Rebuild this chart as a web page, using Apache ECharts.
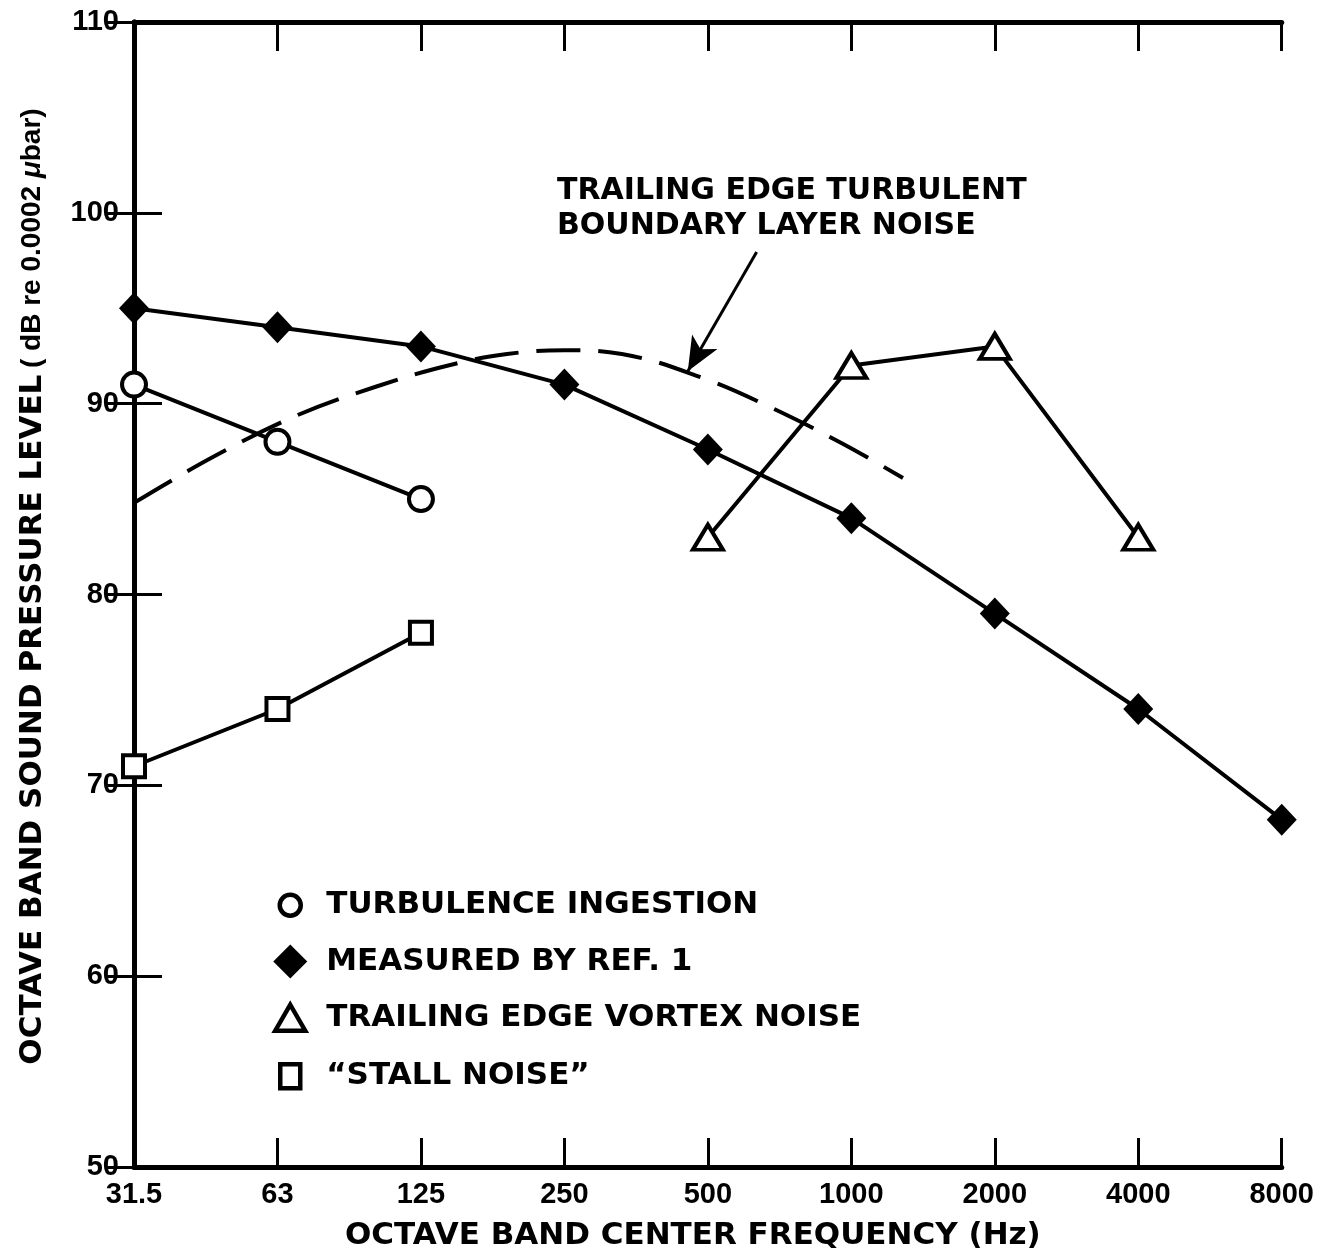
<!DOCTYPE html>
<html>
<head>
<meta charset="utf-8">
<script src="https://cdn.jsdelivr.net/npm/echarts@6/dist/echarts.min.js"></script>
<style>
  html, body { margin: 0; padding: 0; background: #fff; }
  #chart { width: 1317px; height: 1256px; }
</style>
</head>
<body>
<div id="chart"></div>
<script>
// Octave band centre frequencies (Hz), one per octave step on the x axis
const bandLabels = ['31.5', '63', '125', '250', '500', '1000', '2000', '4000', '8000'];
const bandIndex = [0, 1, 2, 3, 4, 5, 6, 7, 8];

// Octave band sound pressure levels, dB re 0.0002 μbar
const measuredRef1 = [95, 94, 93, 91, 87.6, 84, 79, 74, 68.2];           // bands 0..8
const turbulenceIngestion = [91, 88, 85];                                  // bands 0..2
const stallNoise = [71, 74, 78];                                           // bands 0..2
const vortexNoise = [83, 92, 93, 83];                                      // bands 4..7
const vortexBands = [4, 5, 6, 7];

// Predicted trailing edge turbulent boundary layer noise (dashed curve)
const tblBands = [0.0, 0.55, 1.14, 1.69, 2.19, 2.6, 3.0, 3.4, 3.98, 4.44, 4.94, 5.36];
const tblLevels = [84.8, 87.2, 89.4, 90.9, 92.0, 92.6, 92.8, 92.6, 91.3, 89.8, 87.9, 86.1];

// Leader arrow from the annotation to the dashed curve (band, dB)
const arrowFrom = [4.34, 97.95];
const arrowTo = [3.86, 91.7];

const yTicks = { min: 50, max: 110, step: 10 };

const pair = (xs, ys) => ys.map((v, i) => [xs[i], v]);

const TXT = 'DejaVu Sans';
const NUM = 'Liberation Sans';
const INK = '#000';

// Legend keys drawn in a 34x34 box so each symbol keeps its own size
const keyCircle = 'path://M0 0M34 34M27.5 17A10.5 10.5 0 1 1 6.5 17A10.5 10.5 0 1 1 27.5 17Z';
const keyTriangle = 'path://M0 0M34 34M17 4L32 30L2 30Z';
const keySquare = 'path://M0 0M34 34M7 5H27V29H7Z';

const chart = echarts.init(document.getElementById('chart'));

const frameAxisX = {
  type: 'value', min: 0, max: 8, interval: 1,
  axisLine: { show: true, lineStyle: { color: INK, width: 5 } },
  axisTick: { show: true, inside: true, length: 29, lineStyle: { color: INK, width: 3 } },
  splitLine: { show: false }
};
const frameAxisY = {
  type: 'value', min: yTicks.min, max: yTicks.max, interval: yTicks.step,
  axisLine: { show: true, lineStyle: { color: INK, width: 5 } },
  axisTick: { show: true, inside: true, length: 28, lineStyle: { color: INK, width: 3 } },
  splitLine: { show: false }
};

const hollow = { color: '#fff', borderColor: INK, borderWidth: 4 };
const hollowKey = { color: '#fff', borderColor: INK, borderWidth: 4.5 };

chart.setOption({
  animation: false,
  backgroundColor: '#fff',
  grid: { left: 134, right: 34, top: 22, bottom: 88, containLabel: false },
  xAxis: [
    Object.assign({}, frameAxisX, {
      position: 'bottom',
      name: 'OCTAVE BAND CENTER FREQUENCY (Hz)',
      nameLocation: 'middle',
      nameGap: 53,
      nameTextStyle: { fontFamily: TXT, fontWeight: 'bold', fontSize: 31, color: INK, padding: [0, 30, 0, 0] },
      axisLabel: {
        show: true, margin: 13, showMinLabel: true, showMaxLabel: true,
        fontFamily: NUM, fontWeight: 'bold', fontSize: 29, color: INK,
        formatter: v => bandLabels[Math.round(v)] ?? ''
      }
    }),
    Object.assign({}, frameAxisX, { position: 'top', axisLabel: { show: false } })
  ],
  yAxis: [
    Object.assign({}, frameAxisY, {
      position: 'left',
      name: '{a|OCTAVE BAND SOUND PRESSURE LEVEL}  {b|( dB re 0.0002 }{c|μ}{b|bar)}',
      nameLocation: 'middle',
      nameGap: 86,
      nameTextStyle: {
        color: INK,
        padding: [0, 0, 0, 16],
        rich: {
          a: { fontFamily: TXT, fontWeight: 'bold', fontSize: 31, color: INK },
          b: { fontFamily: NUM, fontSize: 28, fontWeight: 'bold', color: INK },
          c: { fontFamily: NUM, fontSize: 28, fontWeight: 'bold', fontStyle: 'italic', color: INK }
        }
      },
      axisLabel: {
        show: true, margin: 15, showMinLabel: true, showMaxLabel: true,
        fontFamily: NUM, fontWeight: 'bold', fontSize: 29, color: INK
      }
    }),
    Object.assign({}, frameAxisY, { position: 'right', axisLabel: { show: false } })
  ],
  legend: {
    orient: 'vertical',
    left: 266,
    top: 881,
    itemWidth: 34,
    itemHeight: 34,
    itemGap: 20,
    selectedMode: false,
    textStyle: { fontFamily: TXT, fontWeight: 'bold', fontSize: 31, color: INK, lineHeight: 34, padding: [0, 0, 0, 14] },
    data: [
      { name: 'TURBULENCE INGESTION', icon: keyCircle, itemStyle: hollowKey },
      { name: 'MEASURED BY REF. 1', icon: 'diamond', itemStyle: { color: INK, borderWidth: 0 } },
      { name: 'TRAILING EDGE VORTEX NOISE', icon: keyTriangle, itemStyle: hollowKey },
      { name: '“STALL NOISE”', icon: keySquare, itemStyle: hollowKey }
    ]
  },
  graphic: [
    {
      type: 'text', left: 557, top: 174, silent: true,
      style: {
        text: 'TRAILING EDGE TURBULENT\nBOUNDARY LAYER NOISE',
        fontFamily: TXT, fontWeight: 'bold', fontSize: 30, lineHeight: 35, fill: INK
      }
    }
  ],
  series: [
    {
      name: 'TRAILING EDGE TURBULENT BOUNDARY LAYER NOISE',
      type: 'line',
      smooth: 0.4,
      showSymbol: false,
      z: 1,
      data: pair(tblBands, tblLevels),
      lineStyle: { color: INK, width: 4, type: [44, 18] },
      markLine: {
        silent: true,
        symbol: ['none', 'arrow'],
        symbolSize: [22, 34],
        label: { show: false },
        lineStyle: { color: INK, width: 3, type: 'solid' },
        itemStyle: { color: INK },
        data: [[{ coord: arrowFrom }, { coord: arrowTo }]]
      }
    },
    {
      name: 'MEASURED BY REF. 1',
      type: 'line',
      z: 3,
      data: pair(bandIndex, measuredRef1),
      symbol: 'diamond',
      symbolSize: [30, 32],
      lineStyle: { color: INK, width: 4 },
      itemStyle: { color: INK, borderWidth: 0 }
    },
    {
      name: 'TURBULENCE INGESTION',
      type: 'line',
      z: 3,
      data: pair(bandIndex, turbulenceIngestion),
      symbol: 'circle',
      symbolSize: 24,
      lineStyle: { color: INK, width: 4 },
      itemStyle: hollow
    },
    {
      name: 'TRAILING EDGE VORTEX NOISE',
      type: 'line',
      z: 3,
      data: pair(vortexBands, vortexNoise),
      symbol: 'triangle',
      symbolSize: [30, 25],
      lineStyle: { color: INK, width: 4 },
      itemStyle: hollow
    },
    {
      name: '“STALL NOISE”',
      type: 'line',
      z: 3,
      data: pair(bandIndex, stallNoise),
      symbol: 'rect',
      symbolSize: 22,
      lineStyle: { color: INK, width: 4 },
      itemStyle: hollow
    }
  ]
});
</script>
</body>
</html>
